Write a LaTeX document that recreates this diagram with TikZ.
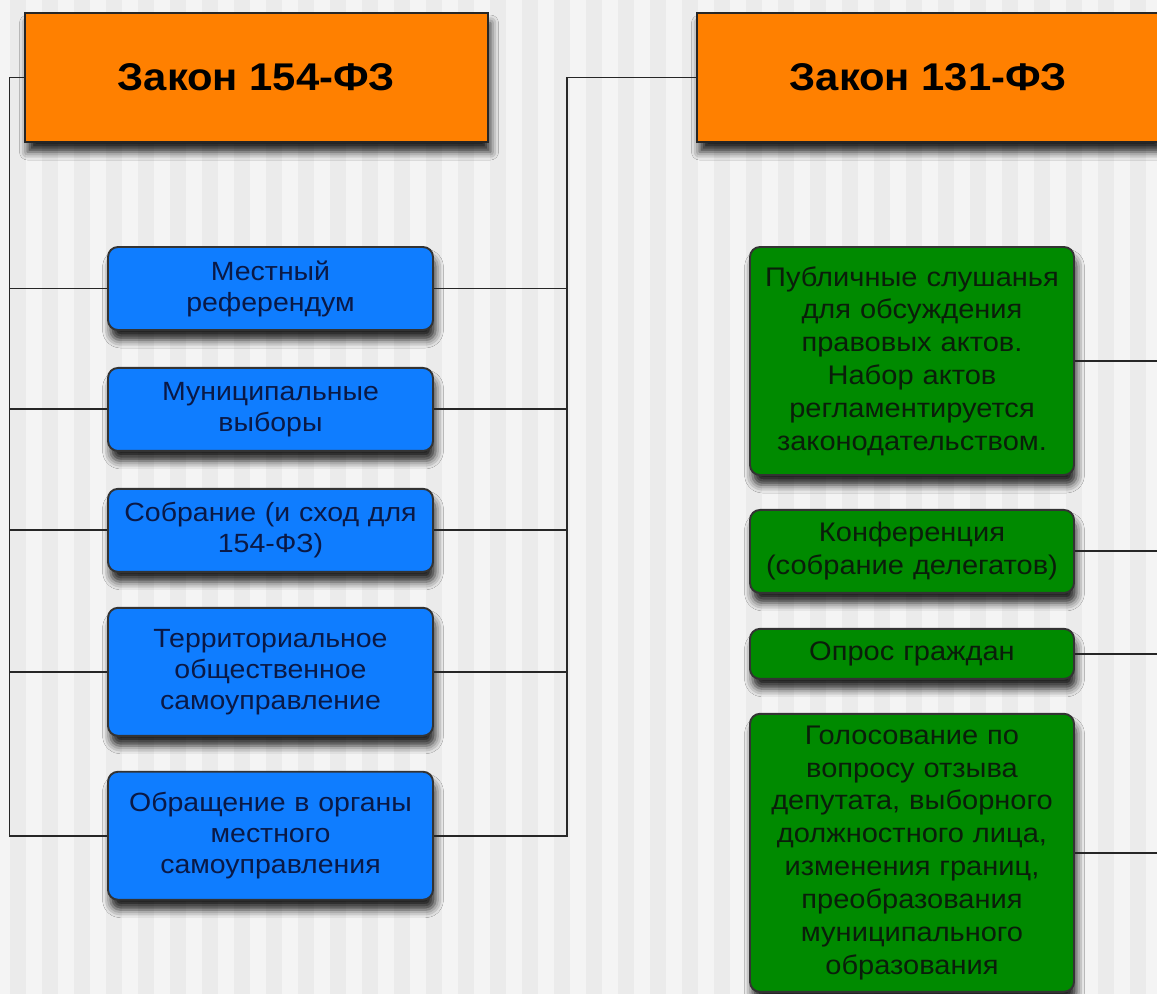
\documentclass[tikz,border=0pt]{standalone}
\usepackage{fontspec}
\setmainfont{Liberation Sans}[FakeStretch=1.08]
\usetikzlibrary{positioning,shadows.blur}
\definecolor{lawfill}{RGB}{255,128,0}
\definecolor{bluefill}{RGB}{15,125,255}
\definecolor{greenfill}{RGB}{0,138,0}
\definecolor{bluetext}{RGB}{10,25,70}
\definecolor{greentext}{RGB}{10,30,10}
\definecolor{bglight}{RGB}{244,244,244}
\definecolor{bgdark}{RGB}{235,235,235}
\tikzset{
  shade/.style ={blur shadow={shadow xshift=0.05cm, shadow yshift=-0.2cm, shadow blur radius=0.16cm, shadow opacity=85}},
  law/.style   ={draw=black!85, line width=1.1pt, fill=lawfill, shade, minimum width=9.26cm, minimum height=2.58cm, font=\fontsize{22}{26}\selectfont\bfseries},
  blk/.style   ={draw=black!80, line width=1.1pt, rounded corners=0.2cm, fill=bluefill, shade, minimum width=6.5cm, text width=6.3cm, align=center, inner sep=0pt, text=bluetext, font=\fontsize{15}{17.6}\selectfont},
  grn/.style   ={draw=black!80, line width=1.1pt, rounded corners=0.2cm, fill=greenfill, shade, minimum width=6.48cm, text width=6.3cm, align=center, inner sep=0pt, text=greentext, font=\fontsize{15.3}{18.7}\selectfont},
  conn/.style  ={draw=black!85, line width=1.1pt},
}

\begin{document}
\begin{tikzpicture}[node distance=0.72cm and 1cm]
  % background stripes
  \fill[bglight] (0,0) rectangle (23.14,-19.88);
  \foreach \i in {0,...,35}
    \fill[bgdark] ({0.2+0.64*\i},0) rectangle ++(0.32,-19.88);
  \useasboundingbox (0,0) rectangle (23.14,-19.88);

  \coordinate (lft) at (0.19,0);
  \coordinate (rgt) at (11.34,0);
  \coordinate (rim) at (23.3,0);

  \node[law] (t154) at (5.13,-1.55) {Закон 154-ФЗ};
  \node[law] (t131) at (18.57,-1.55) {Закон 131-ФЗ};

  \node[blk, minimum height=1.66cm] (b1) at (5.41,-5.77) {Местный\\референдум};
  \node[blk, minimum height=1.66cm, below=of b1] (b2) {Муниципальные\\выборы};
  \node[blk, minimum height=1.66cm, below=of b2] (b3) {Собрание (и сход для\\154-ФЗ)};
  \node[blk, minimum height=2.56cm, below=0.68cm of b3] (b4) {Территориальное\\общественное\\самоуправление};
  \node[blk, minimum height=2.56cm, below=0.68cm of b4] (b5) {Обращение в органы\\местного\\самоуправления};

  \node[grn, minimum height=4.56cm] (g1) at (18.24,-7.22) {Публичные слушанья\\для обсуждения\\правовых актов.\\Набор актов\\регламентируется\\законодательством.};
  \node[grn, minimum height=1.66cm, below=0.66cm of g1] (g2) {Конференция\\(собрание делегатов)};
  \node[grn, minimum height=1.0cm, below=0.68cm of g2] (g3) {Опрос граждан};
  \node[grn, minimum height=5.56cm, below=0.66cm of g3] (g4) {Голосование по\\вопросу отзыва\\депутата, выборного\\должностного лица,\\изменения границ,\\преобразования\\муниципального\\образования};

  \draw[conn] (t154.west) -| (lft |- b5.west) -- (b5.west);
  \draw[conn] (t131.west) -| (rgt |- b5.east) -- (b5.east);
  \foreach \n in {b1,b2,b3,b4} {
    \draw[conn] (\n.west) -- (\n.west -| lft);
    \draw[conn] (\n.east) -- (\n.east -| rgt);
  }
  \foreach \n in {g1,g2,g3,g4}
    \draw[conn] (\n.east) -- (\n.east -| rim);
\end{tikzpicture}
\end{document}
